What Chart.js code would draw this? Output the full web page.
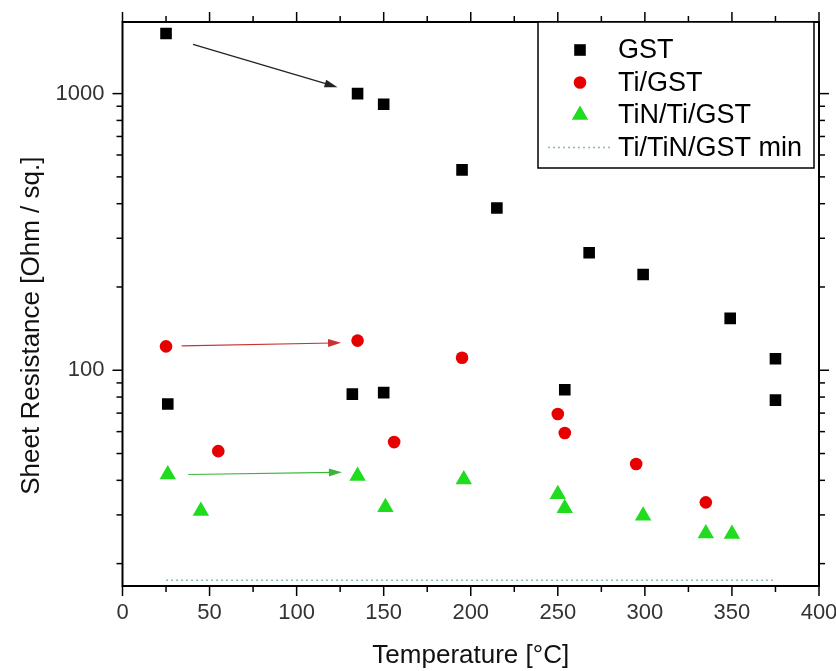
<!DOCTYPE html>
<html>
<head>
<meta charset="utf-8">
<script src="https://cdn.jsdelivr.net/npm/chart.js@4.4.1/dist/chart.umd.min.js"></script>
<style>
  html, body { margin: 0; padding: 0; background: #fff; }
  #wrap { width: 836px; height: 671px; }
</style>
</head>
<body>
<div id="wrap"><canvas id="chart" width="836" height="671"></canvas></div>
<script>
// --- Data ---
const gstTemp = [25, 135, 150, 195, 215, 268, 299, 349, 375, 375, 26, 132, 150, 254];
const gstRes  = [1650, 1000, 915, 530, 386, 266, 222, 154, 110, 78, 75.5, 82, 83, 85];

const tiTemp = [25, 135, 55, 156, 195, 250, 254, 295, 335];
const tiRes  = [122, 128, 51, 55, 111, 69.5, 59.3, 45.8, 33.3];

const tinTemp = [26, 45, 135, 151, 196, 250, 254, 299, 335, 350];
const tinRes  = [42, 31, 41.5, 32, 40.3, 35.6, 31.7, 29.8, 25.7, 25.6];

const minTemp = [25, 375];
const minRes  = [17.4, 17.4];

const seriesNames = ['GST', 'Ti/GST', 'TiN/Ti/GST', 'Ti/TiN/GST min'];

// arrows (data units): from -> to
const arrowFromX = [40.5, 34, 37.8];
const arrowFromY = [1507, 122.4, 42.0];
const arrowToX   = [123.5, 125.5, 126];
const arrowToY   = [1055, 125.6, 42.8];
const arrowColors = ['#222222', '#c83232', '#3cb43c'];

// axis ticks
const xMajor = [0, 50, 100, 150, 200, 250, 300, 350, 400];
const xMinor = [25, 75, 125, 175, 225, 275, 325, 375];
const yMajor = [100, 1000];
const yMinor = [20, 30, 40, 50, 60, 70, 80, 90, 200, 300, 400, 500, 600, 700, 800, 900];

const FONT = '"Liberation Sans", Arial, sans-serif';
const RED = '#e60000';
const GREEN = '#1fdc1f';

const zip = (xs, ys) => xs.map((x, i) => ({ x: x, y: ys[i] }));

// --- tick marks, frame, arrows, legend ---
const decorPlugin = {
  id: 'decor',
  afterDraw(chart) {
    const { ctx, chartArea: a, scales: { x, y } } = chart;
    ctx.save();
    ctx.strokeStyle = '#000';
    ctx.lineWidth = 1.5;
    const tick = (px, py, dx, dy) => {
      ctx.beginPath();
      ctx.moveTo(px, py);
      ctx.lineTo(px + dx, py + dy);
      ctx.stroke();
    };
    xMajor.forEach(v => { const p = x.getPixelForValue(v); tick(p, a.bottom, 0, 10); tick(p, a.top, 0, -10); });
    xMinor.forEach(v => { const p = x.getPixelForValue(v); tick(p, a.bottom, 0, 6); tick(p, a.top, 0, -6); });
    yMajor.forEach(v => { const p = y.getPixelForValue(v); tick(a.left, p, -10, 0); tick(a.right, p, 10, 0); });
    yMinor.forEach(v => { const p = y.getPixelForValue(v); tick(a.left, p, -6, 0); tick(a.right, p, 6, 0); });

    ctx.lineWidth = 2;
    ctx.strokeRect(a.left, a.top, a.right - a.left, a.bottom - a.top);

    // arrows
    arrowFromX.forEach((_, i) => {
      const x1 = x.getPixelForValue(arrowFromX[i]);
      const y1 = y.getPixelForValue(arrowFromY[i]);
      const x2 = x.getPixelForValue(arrowToX[i]);
      const y2 = y.getPixelForValue(arrowToY[i]);
      const ang = Math.atan2(y2 - y1, x2 - x1);
      ctx.strokeStyle = arrowColors[i];
      ctx.fillStyle = arrowColors[i];
      ctx.lineWidth = 1.2;
      ctx.beginPath();
      ctx.moveTo(x1, y1);
      ctx.lineTo(x2 - 8 * Math.cos(ang), y2 - 8 * Math.sin(ang));
      ctx.stroke();
      ctx.beginPath();
      ctx.moveTo(x2, y2);
      ctx.lineTo(x2 - 13 * Math.cos(ang) + 4 * Math.sin(ang), y2 - 13 * Math.sin(ang) - 4 * Math.cos(ang));
      ctx.lineTo(x2 - 13 * Math.cos(ang) - 4 * Math.sin(ang), y2 - 13 * Math.sin(ang) + 4 * Math.cos(ang));
      ctx.closePath();
      ctx.fill();
    });

    // legend box
    const bw = 276, bh = 146;
    const bx = a.right - 5 - bw, by = a.top;
    ctx.fillStyle = '#fff';
    ctx.fillRect(bx, by, bw, bh);
    ctx.strokeStyle = '#000';
    ctx.lineWidth = 1.5;
    ctx.strokeRect(bx, by, bw, bh);
    ctx.font = '27px ' + FONT;
    ctx.textBaseline = 'middle';
    ctx.textAlign = 'left';
    chart.data.datasets.forEach((ds, i) => {
      const ry = by + 28 + i * 32.5;
      const mx = bx + 42;
      if (ds.showLine) {
        ctx.strokeStyle = ds.borderColor;
        ctx.lineWidth = 1.5;
        ctx.setLineDash(ds.borderDash);
        ctx.beginPath();
        ctx.moveTo(bx + 10, ry);
        ctx.lineTo(bx + 72, ry);
        ctx.stroke();
        ctx.setLineDash([]);
      } else {
        ctx.fillStyle = ds.backgroundColor;
        ctx.strokeStyle = ds.backgroundColor;
        Chart.helpers.drawPoint(ctx, { pointStyle: ds.pointStyle, radius: ds.pointRadius, rotation: 0, borderWidth: 0 }, mx, ry);
      }
      ctx.fillStyle = '#000';
      ctx.fillText(ds.label, bx + 80, ry + 1);
    });
    ctx.restore();
  }
};

new Chart(document.getElementById('chart'), {
  type: 'scatter',
  data: {
    datasets: [
      { label: seriesNames[0], data: zip(gstTemp, gstRes), pointStyle: 'rect', pointRadius: 8.2,
        backgroundColor: '#000', borderColor: '#000', borderWidth: 0 },
      { label: seriesNames[1], data: zip(tiTemp, tiRes), pointStyle: 'circle', pointRadius: 6.3,
        backgroundColor: RED, borderColor: RED, borderWidth: 0 },
      { label: seriesNames[2], data: zip(tinTemp, tinRes), pointStyle: 'triangle', pointRadius: 9.5,
        backgroundColor: GREEN, borderColor: GREEN, borderWidth: 0 },
      { label: seriesNames[3], data: zip(minTemp, minRes), showLine: true, pointRadius: 0,
        borderColor: 'rgba(120,175,175,0.85)', backgroundColor: 'rgba(120,175,175,0.85)',
        borderWidth: 1.5, borderDash: [2, 3] }
    ]
  },
  options: {
    responsive: false,
    animation: false,
    events: [],
    layout: { padding: { top: 22, right: 17, left: 0, bottom: 0 } },
    plugins: { legend: { display: false }, tooltip: { enabled: false } },
    scales: {
      x: {
        type: 'linear', min: 0, max: 400,
        grid: { display: false, drawTicks: false },
        border: { display: false },
        ticks: { stepSize: 50, padding: 14, color: '#333', font: { family: FONT, size: 22 } },
        title: { display: true, text: 'Temperature [°C]', color: '#111', padding: { top: 0, bottom: 0 },
                 font: { family: FONT, size: 26 } },
        afterFit: (s) => { s.height = 85; s.paddingLeft = 0; s.paddingRight = 0; }
      },
      y: {
        type: 'logarithmic', min: 16.6, max: 1815,
        grid: { display: false, drawTicks: false },
        border: { display: false },
        afterBuildTicks: (s) => {
          s.ticks = yMinor.concat(yMajor).sort((p, q) => p - q).map(v => ({ value: v, major: yMajor.includes(v) }));
        },
        ticks: {
          autoSkip: false, padding: 18, color: '#333', font: { family: FONT, size: 22 },
          callback: (v) => yMajor.includes(v) ? String(v) : ''
        },
        title: { display: true, text: 'Sheet Resistance [Ohm / sq.]      ', color: '#111', padding: { top: 16, bottom: 0 },
                 font: { family: FONT, size: 26 } },
        afterFit: (s) => { s.width = 122.5; s.paddingTop = 0; s.paddingBottom = 0; }
      }
    }
  },
  plugins: [decorPlugin]
});
</script>
</body>
</html>
